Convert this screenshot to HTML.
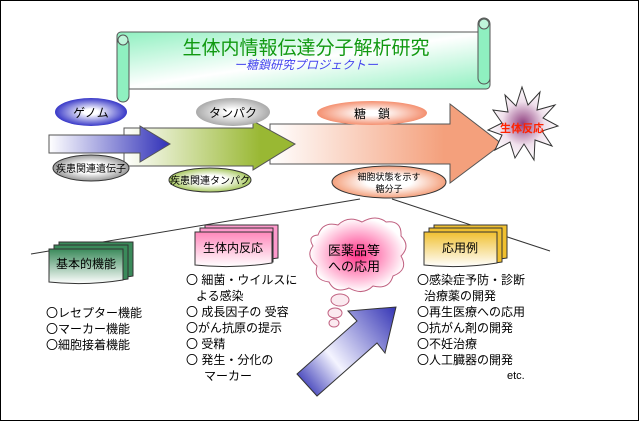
<!DOCTYPE html>
<html><head><meta charset="utf-8"><style>
html,body{margin:0;padding:0;background:#fff}
svg{display:block}
text{font-family:"Liberation Sans","Noto Sans CJK JP",sans-serif}
</style></head><body>
<svg width="641" height="425" viewBox="0 0 641 425" xmlns="http://www.w3.org/2000/svg">
<defs>
<linearGradient id="ban" x1="0" y1="0" x2="1" y2="1"><stop offset="0" stop-color="#8ff0c0"/><stop offset="0.5" stop-color="#ffffff"/><stop offset="1" stop-color="#8ff0c0"/></linearGradient>
<linearGradient id="a1" x1="0" x2="1"><stop offset="0" stop-color="#fff"/><stop offset="1" stop-color="#3030b8"/></linearGradient>
<linearGradient id="a2" x1="0" x2="1"><stop offset="0" stop-color="#fff"/><stop offset="0.8" stop-color="#99b833"/></linearGradient>
<linearGradient id="a3" x1="0" x2="1"><stop offset="0" stop-color="#fff"/><stop offset="0.75" stop-color="#f4a07c"/></linearGradient>
<radialGradient id="eb"><stop offset="0.2" stop-color="#fff"/><stop offset="1" stop-color="#3838c8"/></radialGradient>
<radialGradient id="eg"><stop offset="0.2" stop-color="#fff"/><stop offset="1" stop-color="#aaaaaa"/></radialGradient>
<radialGradient id="es"><stop offset="0.2" stop-color="#fff"/><stop offset="1" stop-color="#f49070"/></radialGradient>
<radialGradient id="e1"><stop offset="0.4" stop-color="#fff"/><stop offset="1" stop-color="#999"/></radialGradient>
<radialGradient id="e2"><stop offset="0.4" stop-color="#fff"/><stop offset="1" stop-color="#a8c860"/></radialGradient>
<radialGradient id="e3"><stop offset="0.4" stop-color="#fff"/><stop offset="1" stop-color="#f4a07c"/></radialGradient>
<radialGradient id="st"><stop offset="0" stop-color="#904080"/><stop offset="0.6" stop-color="#f0e0ec"/><stop offset="1" stop-color="#fff"/></radialGradient>
<radialGradient id="cl"><stop offset="0" stop-color="#ff3388"/><stop offset="1" stop-color="#fff"/></radialGradient>
<linearGradient id="cg" x1="0" y1="0" x2="0" y2="1"><stop offset="0" stop-color="#3a8a5a"/><stop offset="1" stop-color="#fff"/></linearGradient>
<linearGradient id="cp" x1="0" y1="0" x2="0" y2="1"><stop offset="0" stop-color="#ff88bb"/><stop offset="1" stop-color="#fff"/></linearGradient>
<linearGradient id="cy" x1="0" y1="0" x2="0" y2="1"><stop offset="0" stop-color="#f0c030"/><stop offset="1" stop-color="#fff"/></linearGradient>
<linearGradient id="big" x1="298" y1="385" x2="396" y2="307" gradientUnits="userSpaceOnUse"><stop offset="0" stop-color="#3535b5"/><stop offset="0.35" stop-color="#f4f4ff"/><stop offset="1" stop-color="#3535b5"/></linearGradient>
</defs>
<rect x="0.5" y="0.5" width="638" height="420" fill="#fff" stroke="#000"/>
<rect x="117" y="32" width="373" height="57" rx="4" fill="url(#ban)" stroke="#555"/>
<rect x="117" y="38" width="12" height="64" rx="6" fill="#8ff0c0" stroke="#555"/>
<circle cx="123" cy="40" r="5" fill="#bff5da" stroke="#555"/>
<rect x="478" y="18" width="12" height="66" rx="6" fill="#8ff0c0" stroke="#555"/>
<circle cx="484" cy="24" r="5" fill="#bff5da" stroke="#555"/>
<text x="306" y="54" font-size="19" fill="#119911" text-anchor="middle">生体内情報伝達分子解析研究</text>
<text x="306" y="69" font-size="12" fill="#4444ee" font-style="italic" text-anchor="middle">ー糖鎖研究プロジェクトー</text>
<polygon points="270,124 450,124 450,104 502,144 450,183 450,164 270,164" fill="url(#a3)" stroke="#555"/>
<polygon points="124,128 253,128 253,121 295,144 253,170 253,166 124,166" fill="url(#a2)" stroke="#555"/>
<polygon points="49,135 140,135 140,126 170,144 140,162 140,153 49,153" fill="url(#a1)" stroke="#555"/>
<ellipse cx="91" cy="112" rx="36" ry="14" fill="url(#eb)"/>
<text x="91" y="117" font-size="12" text-anchor="middle">ゲノム</text>
<ellipse cx="233" cy="112" rx="37" ry="14" fill="url(#eg)"/>
<text x="233" y="117" font-size="12" text-anchor="middle">タンパク</text>
<ellipse cx="372" cy="113" rx="55" ry="12" fill="url(#es)"/>
<text x="372" y="118" font-size="12" text-anchor="middle">糖　鎖</text>
<polygon points="522,87 528,105 540,92 537,110 555,105 543,118 558,126 542,131 552,146 535,140 534,160 524,144 515,158 510,142 495,150 502,135 488,130 502,123 493,110 508,112 505,95 516,106" fill="url(#st)" stroke="#333"/>
<text x="522" y="132" font-size="11" font-weight="bold" fill="#ff2200" text-anchor="middle">生体反応</text>
<ellipse cx="91" cy="168" rx="38" ry="13" fill="url(#e1)" stroke="#333"/>
<text x="91" y="172" font-size="10" text-anchor="middle">疾患関連遺伝子</text>
<ellipse cx="210" cy="180" rx="41" ry="12" fill="url(#e2)" stroke="#333"/>
<text x="210" y="184" font-size="10" text-anchor="middle">疾患関連タンパク</text>
<ellipse cx="389" cy="182" rx="57" ry="16" fill="url(#e3)" stroke="#333"/>
<text x="389" y="180" font-size="9" text-anchor="middle">細胞状態を示す</text>
<text x="389" y="192" font-size="9" text-anchor="middle">糖分子</text>
<line x1="31" y1="254" x2="360" y2="199" stroke="#333"/>
<line x1="392" y1="199" x2="550" y2="251" stroke="#333"/>
<g stroke="#333">
<path d="M59,242h74v34q-37,6-74,2z" fill="#3a8a5a"/>
<path d="M54,245h74v34q-37,6-74,2z" fill="#3a8a5a"/>
<path d="M49,249h74v31q-37,6-74,2z" fill="url(#cg)"/>
<path d="M205,225h73v33q-37,6-73,2z" fill="#ff99cc"/>
<path d="M200,228h73v34q-37,6-73,2z" fill="#ff99cc"/>
<path d="M195,232h77v31q-38,6-77,2z" fill="url(#cp)"/>
<path d="M434,225h73v33q-37,6-73,2z" fill="#f0c030"/>
<path d="M429,228h73v34q-37,6-73,2z" fill="#f0c030"/>
<path d="M424,232h73v31q-37,6-73,2z" fill="url(#cy)"/>
</g>
<text x="86" y="268" font-size="12" text-anchor="middle">基本的機能</text>
<text x="233" y="252" font-size="12" text-anchor="middle">生体内反応</text>
<text x="460" y="252" font-size="12" text-anchor="middle">応用例</text>
<g fill="url(#cl)" stroke="#c06080">
<path d="M318,235 q5,-14 20,-10 q10,-10 24,-3 q14,-8 24,0 q16,-2 15,14 q10,10 0,20 q8,14 -8,20 q-4,14 -20,10 q-10,10 -24,2 q-14,6 -20,-6 q-16,-2 -12,-16 q-12,-10 -4,-20 q-6,-10 5,-11z"/>
</g>
<g fill="#fbeaf0" stroke="#c06080">
<ellipse cx="340" cy="300" rx="9" ry="6"/>
<ellipse cx="335" cy="313" rx="7" ry="5"/>
<ellipse cx="334" cy="323" rx="5" ry="4"/>
</g>
<text x="354" y="255" font-size="13" text-anchor="middle">医薬品等</text>
<text x="354" y="271" font-size="13" text-anchor="middle">への応用</text>
<polygon points="297,374 357,321 348,311 396,307 385,353 377,343 317,396" fill="url(#big)" stroke="#333"/>
<g font-size="12">
<text x="46" y="317">〇レセプター機能</text>
<text x="46" y="333">〇マーカー機能</text>
<text x="46" y="349">〇細胞接着機能</text>
<text x="186" y="284">〇 細菌・ウイルスに</text>
<text x="196" y="300">よる感染</text>
<text x="186" y="316">〇 成長因子の 受容</text>
<text x="186" y="332">〇がん抗原の提示</text>
<text x="186" y="348">〇 受精</text>
<text x="186" y="364">〇 発生・分化の</text>
<text x="204" y="380">マーカー</text>
<text x="417" y="284">〇感染症予防・診断</text>
<text x="424" y="300">治療薬の開発</text>
<text x="417" y="316">〇再生医療への応用</text>
<text x="417" y="332">〇抗がん剤の開発</text>
<text x="417" y="348">〇不妊治療</text>
<text x="417" y="364">〇人工臓器の開発</text>
<text x="507" y="379" font-size="11">etc.</text>
</g>
</svg>
</body></html>
